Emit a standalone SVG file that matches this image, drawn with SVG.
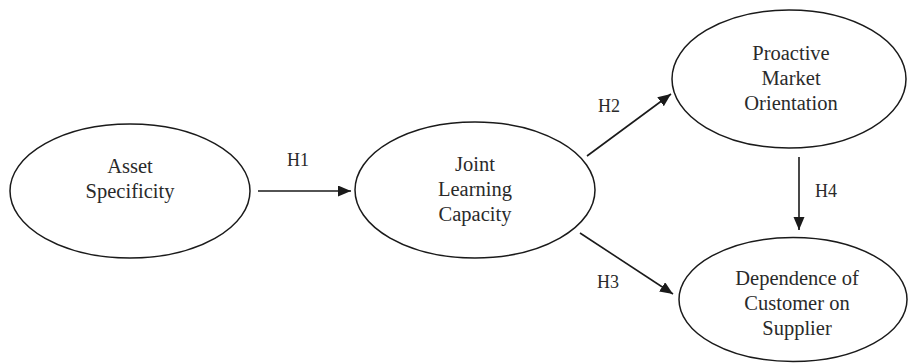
<svg xmlns="http://www.w3.org/2000/svg" width="909" height="363" viewBox="0 0 909 363">
<style>
.node ellipse{fill:#fff;stroke:#1a1a1a;stroke-width:1.5}
.node text{font-family:"Liberation Serif","Times New Roman",serif;font-size:20.5px;fill:#2a2a2a;text-anchor:middle}
.conn line{stroke:#1a1a1a;stroke-width:1.6;marker-end:url(#arr)}
.lbl{font-family:"Liberation Serif","Times New Roman",serif;font-size:18px;fill:#2a2a2a}
</style>
<defs>
<marker id="arr" markerUnits="userSpaceOnUse" markerWidth="14" markerHeight="12" refX="13" refY="5.5" orient="auto">
<path d="M0,0 L13,5.5 L0,11 z" fill="#1a1a1a"/>
</marker>
</defs>
<rect width="909" height="363" fill="#fff"/>
<g id="asset" class="node">
<ellipse cx="130" cy="191" rx="120" ry="67"/>
<text x="130" y="173">Asset</text>
<text x="130" y="198">Specificity</text>
</g>
<g id="joint" class="node">
<ellipse cx="475" cy="190" rx="120" ry="68"/>
<text x="475" y="171">Joint</text>
<text x="475" y="196">Learning</text>
<text x="475" y="221">Capacity</text>
</g>
<g id="proactive" class="node">
<ellipse cx="789" cy="79" rx="117" ry="69"/>
<text x="791" y="60">Proactive</text>
<text x="791" y="85">Market</text>
<text x="791" y="110">Orientation</text>
</g>
<g id="dependence" class="node">
<ellipse cx="793" cy="299.5" rx="114" ry="62"/>
<text x="797" y="285">Dependence of</text>
<text x="797" y="310">Customer on</text>
<text x="797" y="335">Supplier</text>
</g>
<g id="connectors" class="conn">
<line x1="258" y1="191" x2="351" y2="191"/>
<line x1="587" y1="156" x2="671" y2="94"/>
<line x1="580" y1="233" x2="673" y2="294"/>
<line x1="799" y1="157" x2="799" y2="230"/>
</g>
<g id="labels">
<text class="lbl" x="298" y="166" text-anchor="middle">H1</text>
<text class="lbl" x="598" y="112">H2</text>
<text class="lbl" x="597" y="288">H3</text>
<text class="lbl" x="815" y="197">H4</text>
</g>
</svg>
